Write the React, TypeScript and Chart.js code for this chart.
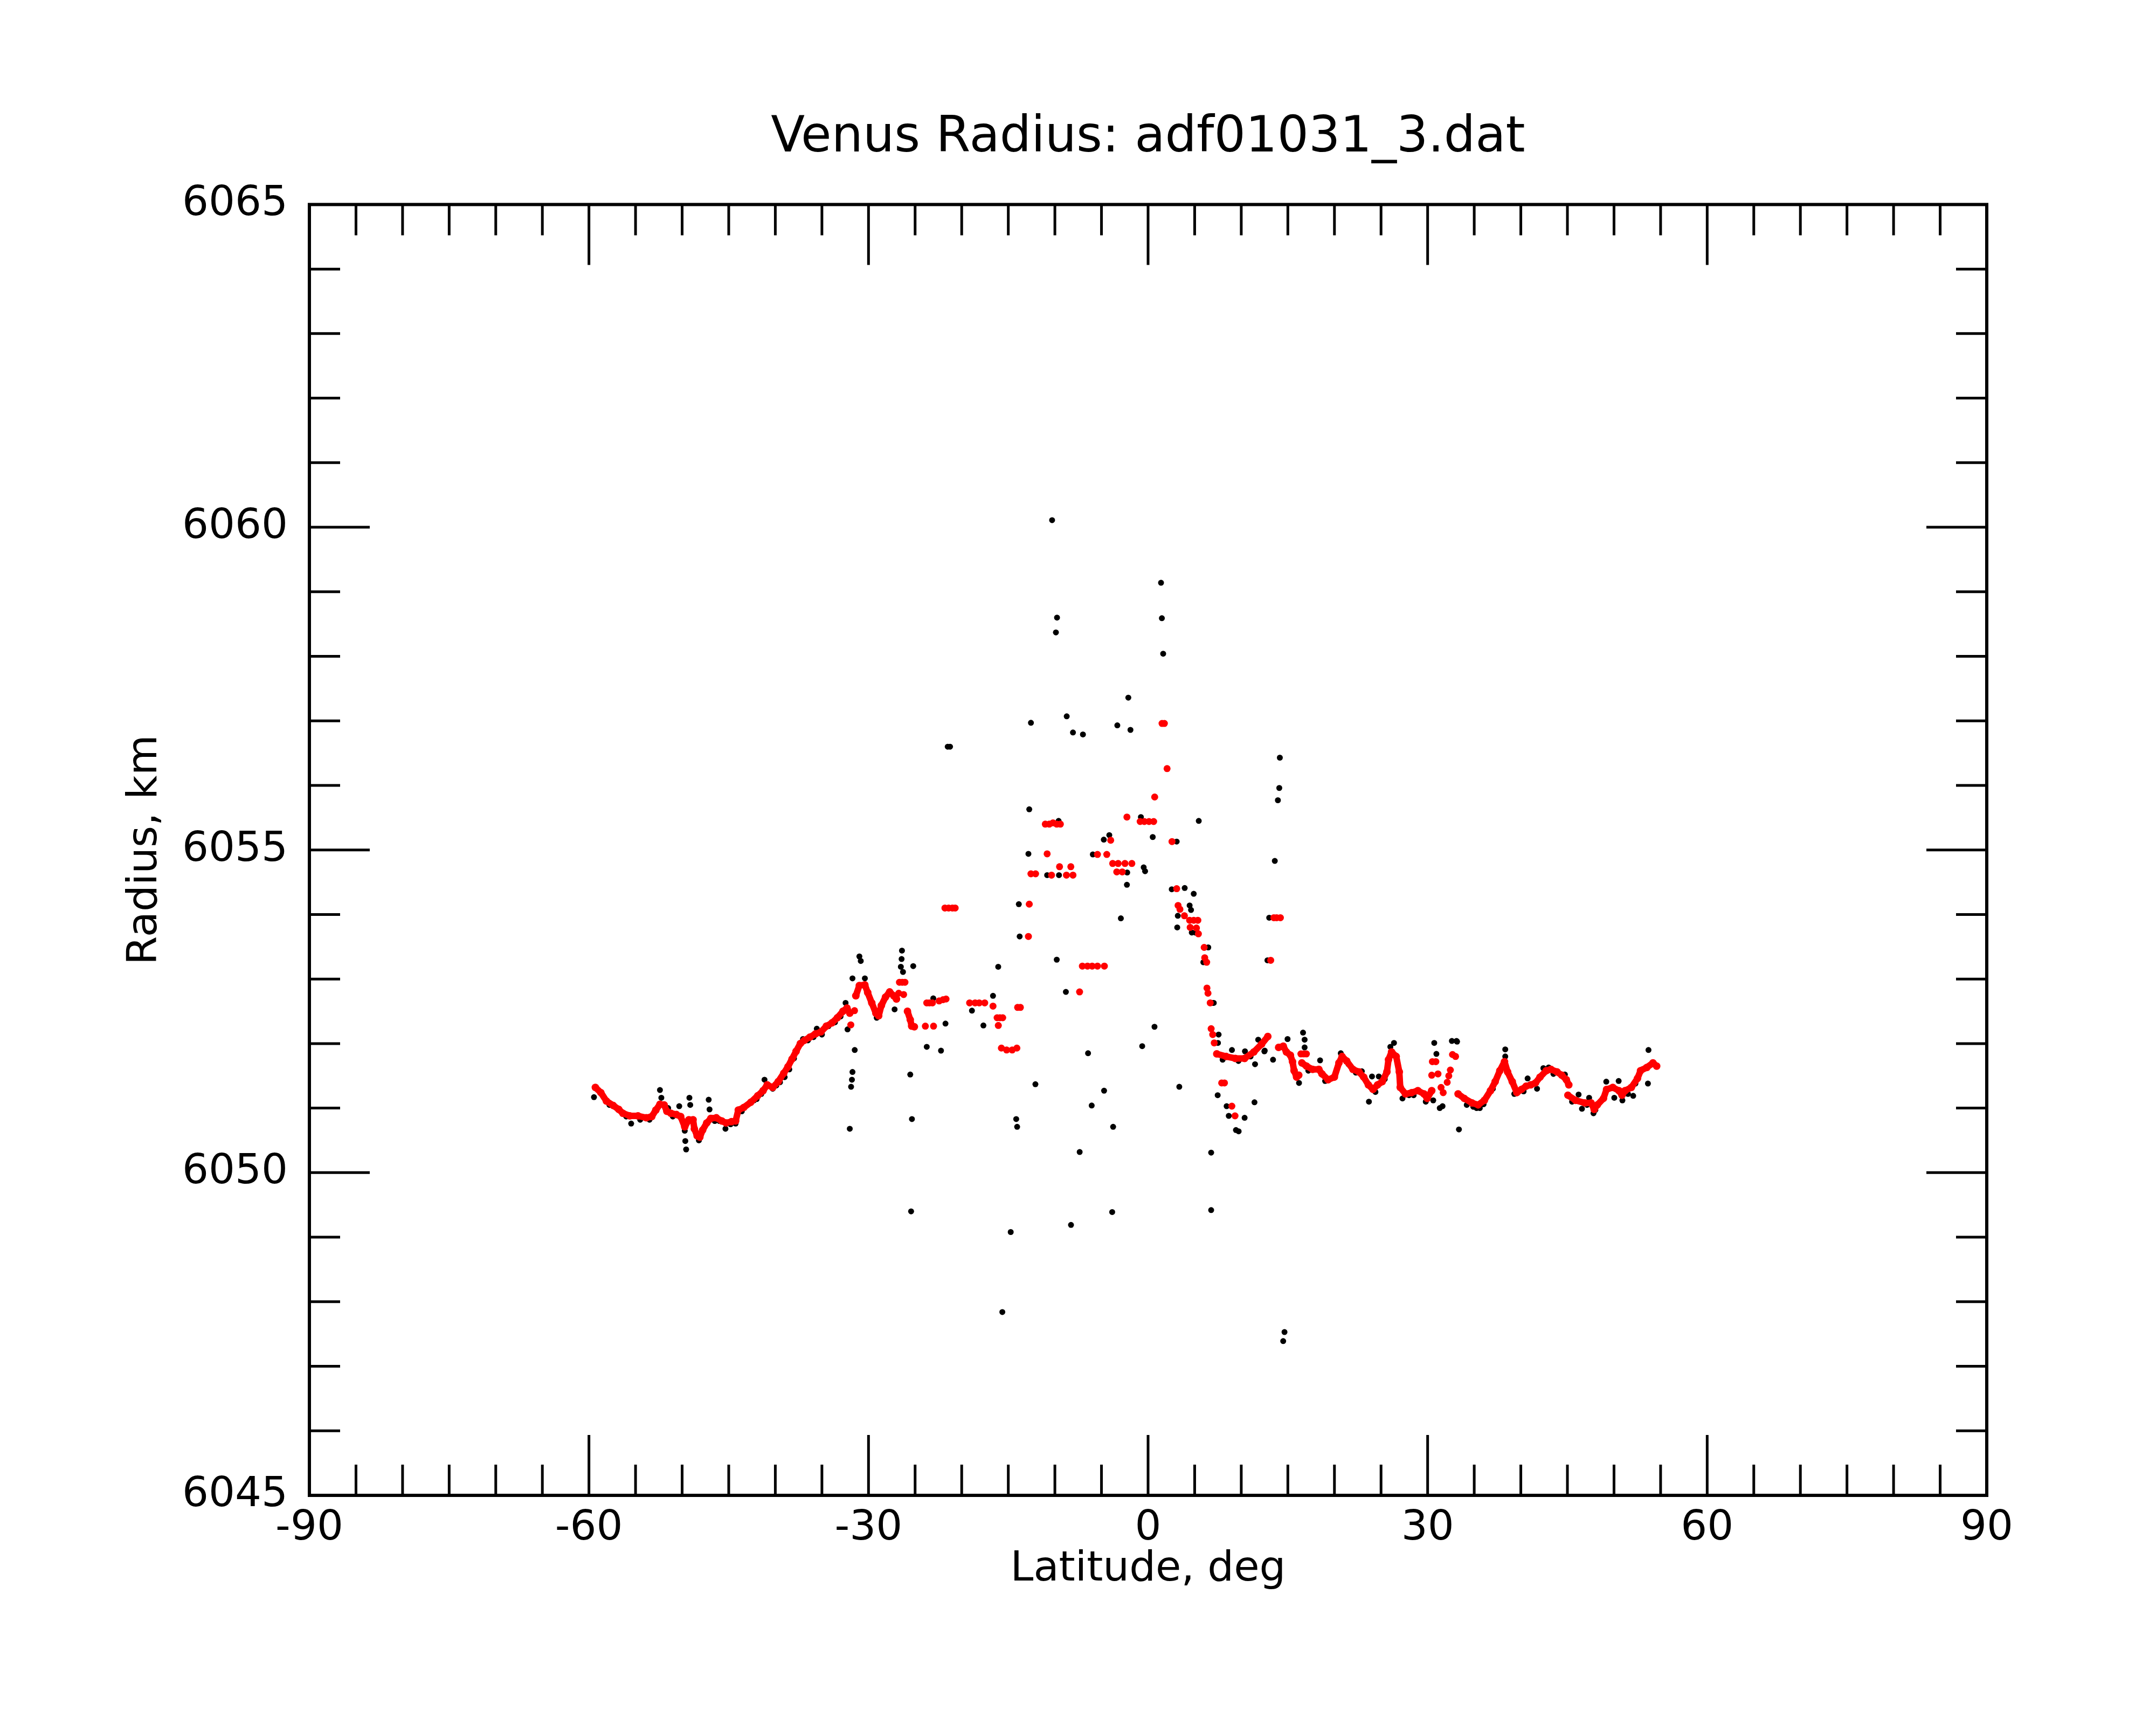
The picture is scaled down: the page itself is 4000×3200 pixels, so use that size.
import React, { useEffect, useRef } from "react";
import { Chart, registerables } from "chart.js";

Chart.register(...registerables);

const TITLE = "Venus Radius: adf01031_3.dat";
const X_TITLE = "Latitude, deg";
const Y_TITLE = "Radius, km";
const FONT = "DejaVu Sans";

const X_MIN = -90;
const X_MAX = 90;
const X_MAJOR = 30;
const X_MINOR = 5;
const Y_MIN = 6045;
const Y_MAX = 6065;
const Y_MAJOR = 5;
const Y_MINOR = 1;

// red (smoothed) continuous runs: [latitude, radius]
const redSouth: [number, number][] = [
  [-59.31, 6051.32], [-58.72, 6051.24], [-58.13, 6051.11], [-57.39, 6051.04], [-56.8, 6050.98],
  [-56.36, 6050.92], [-55.62, 6050.88], [-54.74, 6050.88], [-53.85, 6050.85], [-53.26, 6050.87],
  [-52.82, 6050.97], [-52.38, 6051.06], [-51.93, 6051.05], [-51.64, 6050.95], [-51.2, 6050.92],
  [-50.61, 6050.9], [-50.16, 6050.87], [-49.72, 6050.71], [-49.28, 6050.82], [-48.83, 6050.82],
  [-48.69, 6050.68], [-48.39, 6050.57], [-48.1, 6050.55], [-47.8, 6050.66], [-47.36, 6050.77],
  [-46.92, 6050.84], [-46.33, 6050.85], [-45.74, 6050.8], [-45.29, 6050.77], [-44.7, 6050.79],
  [-44.26, 6050.8], [-43.97, 6050.97], [-43.38, 6051.01], [-42.64, 6051.09], [-41.9, 6051.19],
  [-41.31, 6051.27], [-40.87, 6051.36], [-40.28, 6051.32], [-39.69, 6051.41], [-39.1, 6051.54],
  [-38.65, 6051.64], [-38.21, 6051.76], [-37.77, 6051.88], [-37.32, 6052.0], [-36.88, 6052.05],
  [-36.29, 6052.1], [-35.7, 6052.15], [-35.11, 6052.18], [-34.52, 6052.27], [-33.93, 6052.32],
  [-33.34, 6052.4], [-32.75, 6052.5], [-32.31, 6052.55], [-32.01, 6052.47],
];
const redWiggle: [number, number][] = [
  [-31.36, 6052.74], [-30.98, 6052.9], [-30.39, 6052.91], [-30.09, 6052.79], [-29.65, 6052.63],
  [-29.21, 6052.47], [-28.91, 6052.43], [-28.62, 6052.59], [-28.18, 6052.72], [-27.73, 6052.8],
  [-27.29, 6052.74], [-27.0, 6052.69],
];
const redSouthEnd: [number, number][] = [
  [-25.82, 6052.5], [-25.52, 6052.37], [-25.37, 6052.27], [-25.08, 6052.26],
];
const redNorthA: [number, number][] = [
  [7.37, 6051.84], [8.37, 6051.8], [9.36, 6051.77], [10.36, 6051.77], [11.35, 6051.87],
  [12.18, 6051.99], [12.85, 6052.11],
];
const redNorthB: [number, number][] = [
  [14.01, 6051.94], [14.51, 6051.96], [14.84, 6051.87], [15.27, 6051.82], [15.5, 6051.72],
  [15.67, 6051.58], [15.94, 6051.48], [16.17, 6051.51],
];
const redNorthC: [number, number][] = [
  [16.5, 6051.7], [17.0, 6051.65], [17.66, 6051.6], [18.33, 6051.6], [18.66, 6051.53],
  [19.32, 6051.44], [19.99, 6051.48], [20.48, 6051.7], [20.82, 6051.8], [21.31, 6051.73],
  [21.98, 6051.6], [22.64, 6051.56], [23.14, 6051.48], [23.64, 6051.36], [24.14, 6051.29],
  [24.63, 6051.36], [25.13, 6051.41], [25.63, 6051.56], [25.8, 6051.75], [26.13, 6051.87],
  [26.63, 6051.8], [26.96, 6051.56], [27.06, 6051.32], [27.62, 6051.22], [28.29, 6051.24],
  [28.95, 6051.27], [29.61, 6051.22], [29.95, 6051.15], [30.44, 6051.27],
];
const redNorthD: [number, number][] = [
  [33.27, 6051.22], [33.93, 6051.15], [34.76, 6051.08], [35.42, 6051.05], [36.09, 6051.12],
  [36.75, 6051.27], [37.25, 6051.41], [37.75, 6051.58], [38.25, 6051.72], [38.58, 6051.56],
  [39.08, 6051.41], [39.57, 6051.24], [40.07, 6051.29], [40.57, 6051.34], [41.07, 6051.36],
  [41.57, 6051.39], [42.06, 6051.48], [42.73, 6051.58], [43.23, 6051.6], [43.89, 6051.56],
  [44.39, 6051.51], [44.89, 6051.44], [45.15, 6051.36],
];
const redNorthE: [number, number][] = [
  [45.05, 6051.2], [45.88, 6051.12], [46.88, 6051.08], [47.54, 6051.08], [47.87, 6050.98],
  [48.21, 6051.05], [48.87, 6051.15], [49.2, 6051.29], [49.87, 6051.32], [50.53, 6051.27],
  [50.86, 6051.2], [51.19, 6051.27], [51.86, 6051.32], [52.52, 6051.46], [52.85, 6051.58],
  [53.52, 6051.63], [54.18, 6051.7], [54.58, 6051.65],
];

// red isolated points
const redScatter: [number, number][] = [
  [-31.9, 6052.29], [-31.5, 6052.51], [-26.68, 6052.95], [-26.38, 6052.95], [-26.09, 6052.95],
  [-26.76, 6052.78], [-26.23, 6052.76], [-23.9, 6052.27], [-23.02, 6052.27], [-23.75, 6052.63],
  [-23.46, 6052.63], [-23.14, 6052.63], [-22.42, 6052.66], [-22.0, 6052.68], [-21.68, 6052.69],
  [-21.8, 6054.1], [-21.4, 6054.1], [-21.0, 6054.1], [-20.7, 6054.1], [-19.15, 6052.63],
  [-18.56, 6052.63], [-18.12, 6052.63], [-17.53, 6052.63], [-16.64, 6052.58], [-16.2, 6052.4],
  [-15.9, 6052.4], [-15.6, 6052.4], [-16.07, 6052.28], [-15.74, 6051.93], [-15.18, 6051.9],
  [-14.58, 6051.9], [-14.08, 6051.93], [-14.0, 6052.56], [-13.7, 6052.56], [-12.84, 6053.66],
  [-12.75, 6054.16], [-12.57, 6054.63], [-12.07, 6054.63], [-10.83, 6054.94], [-10.36, 6054.61],
  [-8.76, 6054.61], [-8.06, 6054.61], [-9.5, 6054.74], [-8.29, 6054.74], [-11.03, 6055.4],
  [-10.6, 6055.4], [-10.2, 6055.42], [-9.8, 6055.4], [-9.41, 6055.4], [-7.35, 6052.8],
  [-7.05, 6053.2], [-6.5, 6053.2], [-6.0, 6053.2], [-5.43, 6053.2], [-4.69, 6053.2],
  [-5.43, 6054.93], [-4.43, 6054.93], [-4.01, 6055.15], [-3.8, 6054.79], [-3.21, 6054.79],
  [-2.48, 6054.79], [-1.74, 6054.79], [-3.36, 6054.66], [-2.77, 6054.66], [-2.27, 6055.51],
  [-0.85, 6055.44], [-0.4, 6055.44], [0.1, 6055.44], [0.6, 6055.44], [0.71, 6055.82],
  [1.5, 6056.96], [1.75, 6056.96], [2.04, 6056.26], [2.57, 6055.13], [3.07, 6054.4],
  [3.22, 6054.14], [3.42, 6054.08], [3.9, 6053.98], [4.46, 6053.91], [4.9, 6053.91],
  [5.34, 6053.91], [4.52, 6053.8], [5.19, 6053.79], [5.4, 6053.7], [6.02, 6053.49],
  [6.08, 6053.33], [6.29, 6053.26], [6.32, 6052.86], [6.43, 6052.78], [6.67, 6052.63],
  [6.77, 6052.23], [6.94, 6052.14], [7.1, 6052.01], [7.9, 6051.39], [8.2, 6051.39],
  [8.99, 6051.03], [9.33, 6050.88], [13.16, 6053.29], [13.5, 6053.95], [13.8, 6053.95],
  [14.2, 6053.95], [16.4, 6051.84], [16.7, 6051.84], [16.99, 6051.84], [30.51, 6051.72],
  [30.88, 6051.72], [30.44, 6051.51], [31.11, 6051.53], [31.44, 6051.32], [31.67, 6051.24],
  [32.1, 6051.4], [32.27, 6051.5], [32.44, 6051.59], [32.67, 6051.83], [33.0, 6051.8],
];

// black (raw) points
const blackPoints: [number, number][] = [
  [-59.46, 6051.17], [-59.0, 6051.28], [-57.8, 6051.05], [-57.0, 6051.0], [-56.0, 6050.87],
  [-55.47, 6050.76], [-54.5, 6050.82], [-53.5, 6050.82], [-52.38, 6051.28], [-52.23, 6051.16],
  [-51.5, 6051.0], [-51.0, 6050.87], [-50.31, 6051.03], [-49.72, 6050.65], [-49.66, 6050.49],
  [-49.57, 6050.36], [-49.22, 6051.16], [-49.13, 6051.05], [-48.2, 6050.5], [-47.15, 6051.13],
  [-47.06, 6050.98], [-46.5, 6050.8], [-46.0, 6050.8], [-45.35, 6050.68], [-44.8, 6050.75],
  [-44.26, 6050.76], [-43.6, 6050.95], [-42.3, 6051.12], [-42.0, 6051.14], [-41.5, 6051.22],
  [-41.16, 6051.44], [-40.28, 6051.3], [-39.9, 6051.35], [-39.5, 6051.4], [-39.0, 6051.48],
  [-38.5, 6051.6], [-38.0, 6051.77], [-37.03, 6052.07], [-36.5, 6052.05], [-35.9, 6052.1],
  [-35.55, 6052.23], [-35.0, 6052.14], [-34.3, 6052.27], [-33.6, 6052.33], [-33.0, 6052.42],
  [-32.46, 6052.63], [-32.25, 6052.22], [-31.72, 6053.01], [-30.98, 6053.35], [-30.83, 6053.28],
  [-30.39, 6053.01], [-31.48, 6051.9], [-31.72, 6051.56], [-31.78, 6051.44], [-31.87, 6051.33],
  [-32.01, 6050.68], [-29.12, 6052.4], [-27.2, 6052.53], [-26.41, 6053.44], [-26.45, 6053.31],
  [-26.53, 6053.19], [-26.3, 6053.11], [-25.2, 6053.2], [-25.52, 6051.52], [-25.34, 6050.83],
  [-25.43, 6049.4], [-23.75, 6051.95], [-22.22, 6051.89], [-21.74, 6052.31], [-23.05, 6052.7],
  [-21.5, 6056.6], [-21.25, 6056.6], [-18.9, 6052.51], [-17.67, 6052.28], [-16.64, 6052.74],
  [-16.08, 6053.19], [-15.64, 6047.84], [-14.74, 6049.08], [-14.15, 6050.83], [-14.05, 6050.71],
  [-13.87, 6054.16], [-13.78, 6053.66], [-12.84, 6054.94], [-12.75, 6055.63], [-12.57, 6056.97],
  [-12.09, 6051.37], [-10.83, 6054.61], [-10.3, 6060.11], [-9.89, 6058.37], [-9.77, 6058.6],
  [-9.8, 6053.3], [-9.56, 6054.61], [-9.6, 6055.45], [-8.82, 6052.8], [-8.73, 6057.07],
  [-8.27, 6049.19], [-8.06, 6056.82], [-7.34, 6050.32], [-6.99, 6056.79], [-6.44, 6051.85],
  [-6.05, 6051.04], [-5.93, 6054.93], [-5.43, 6053.2], [-4.75, 6055.16], [-4.16, 6055.23],
  [-4.72, 6051.27], [-3.85, 6049.39], [-3.75, 6050.71], [-3.3, 6056.93], [-2.92, 6053.94],
  [-2.24, 6054.65], [-2.27, 6054.46], [-2.12, 6057.36], [-1.89, 6056.86], [-0.77, 6055.51],
  [-0.63, 6051.96], [-0.47, 6054.73], [-0.32, 6054.67], [0.5, 6055.2], [0.69, 6052.26],
  [1.39, 6059.14], [1.48, 6058.59], [1.62, 6058.04], [2.54, 6054.39], [3.07, 6055.13],
  [3.13, 6053.8], [3.19, 6053.98], [3.35, 6051.33], [3.93, 6054.41], [4.46, 6054.14],
  [4.61, 6054.07], [4.69, 6053.72], [4.9, 6054.32], [5.05, 6053.72], [5.44, 6055.45],
  [5.93, 6053.26], [6.46, 6053.49], [6.77, 6050.31], [6.77, 6049.42], [6.97, 6052.63],
  [7.05, 6052.63], [7.5, 6052.01], [7.57, 6052.14], [7.47, 6051.2], [8.0, 6051.75],
  [8.43, 6051.03], [8.66, 6050.88], [9.43, 6050.66], [9.72, 6050.64], [9.0, 6051.9],
  [9.7, 6051.73], [10.36, 6050.85], [10.4, 6051.88], [11.0, 6051.8], [11.42, 6051.09],
  [11.48, 6051.68], [11.82, 6052.06], [12.48, 6051.88], [12.52, 6051.89], [12.81, 6053.29],
  [13.0, 6053.95], [13.41, 6051.75], [13.6, 6054.83], [13.93, 6055.77], [14.08, 6055.96],
  [14.14, 6056.43], [14.5, 6047.39], [14.64, 6047.53], [14.97, 6052.07], [16.63, 6052.17],
  [16.8, 6052.06], [16.8, 6051.94], [16.2, 6051.39], [17.2, 6051.58], [18.46, 6051.74],
  [19.0, 6051.42], [20.68, 6051.85], [21.5, 6051.68], [22.3, 6051.55], [22.94, 6051.57],
  [23.7, 6051.1], [24.03, 6051.49], [24.4, 6051.25], [24.76, 6051.49], [25.4, 6051.45],
  [26.0, 6051.95], [26.39, 6052.01], [27.3, 6051.15], [28.0, 6051.2], [28.5, 6051.2],
  [29.8, 6051.1], [30.71, 6052.01], [30.94, 6051.84], [30.6, 6051.12], [31.3, 6051.0],
  [31.6, 6051.03], [32.6, 6052.04], [33.1, 6052.04], [33.16, 6052.03], [33.36, 6050.67],
  [34.2, 6051.05], [34.9, 6051.02], [35.26, 6051.0], [35.6, 6051.0], [36.0, 6051.06],
  [37.0, 6051.3], [38.33, 6051.91], [38.33, 6051.8], [39.3, 6051.22], [40.3, 6051.26],
  [40.73, 6051.46], [41.74, 6051.3], [42.42, 6051.62], [42.99, 6051.63], [43.5, 6051.53],
  [44.73, 6051.52], [45.5, 6051.1], [46.2, 6051.21], [46.56, 6050.99], [47.1, 6051.05],
  [47.33, 6051.16], [47.8, 6050.92], [48.0, 6050.97], [49.17, 6051.41], [50.03, 6051.16],
  [50.5, 6051.42], [50.9, 6051.12], [51.5, 6051.22], [52.06, 6051.19], [52.3, 6051.38],
  [53.02, 6051.6], [53.64, 6051.38], [53.7, 6051.9],
];

const redRuns = [redSouth, redWiggle, redSouthEnd, redNorthA, redNorthB, redNorthC, redNorthD, redNorthE];

const toXY = (pts: [number, number][]) => pts.map(([x, y]) => ({ x, y }));

const frameAndTicks = {
  id: "frameAndTicks",
  afterDraw(chart: any) {
    const { ctx, chartArea: a, scales } = chart;
    const xs = scales.x;
    const ys = scales.y;
    ctx.save();
    ctx.strokeStyle = "#000";
    ctx.lineCap = "butt";
    ctx.lineWidth = 5;
    ctx.beginPath();
    for (let v = X_MIN + X_MINOR; v < X_MAX; v += X_MINOR) {
      const px = xs.getPixelForValue(v);
      const len = v % X_MAJOR === 0 ? 112 : 57;
      ctx.moveTo(px, a.bottom);
      ctx.lineTo(px, a.bottom - len);
      ctx.moveTo(px, a.top);
      ctx.lineTo(px, a.top + len);
    }
    for (let v = Y_MIN + Y_MINOR; v < Y_MAX; v += Y_MINOR) {
      const py = ys.getPixelForValue(v);
      const len = (v - Y_MIN) % Y_MAJOR === 0 ? 112 : 57;
      ctx.moveTo(a.left, py);
      ctx.lineTo(a.left + len, py);
      ctx.moveTo(a.right, py);
      ctx.lineTo(a.right - len, py);
    }
    ctx.stroke();
    ctx.lineWidth = 6;
    ctx.strokeRect(a.left, a.top, a.right - a.left, a.bottom - a.top);
    ctx.restore();
  },
};

export default function App() {
  const canvasRef = useRef<HTMLCanvasElement | null>(null);

  useEffect(() => {
    const canvas = canvasRef.current;
    if (!canvas) return;

    const curveData: any[] = [];
    redRuns.forEach((run, i) => {
      curveData.push(...toXY(run));
      if (i < redRuns.length - 1) curveData.push({ x: run[run.length - 1][0], y: null });
    });

    const chart = new Chart(canvas, {
      type: "scatter",
      data: {
        datasets: [
          {
            label: "smoothed",
            data: curveData,
            showLine: true,
            spanGaps: false,
            borderColor: "#ff0000",
            borderWidth: 12,
            borderJoinStyle: "round",
            borderCapStyle: "round",
            backgroundColor: "#ff0000",
            pointBackgroundColor: "#ff0000",
            pointBorderWidth: 0,
            pointRadius: 7,
            tension: 0,
            order: 0,
            yAxisID: "y",
          } as any,
          {
            label: "smoothed points",
            data: toXY(redScatter),
            backgroundColor: "#ff0000",
            pointBackgroundColor: "#ff0000",
            pointBorderWidth: 0,
            pointRadius: 6.5,
            order: 1,
            yAxisID: "y",
          } as any,
          {
            label: "raw",
            data: toXY(blackPoints),
            backgroundColor: "#000000",
            pointBackgroundColor: "#000000",
            pointBorderWidth: 0,
            pointRadius: 5.5,
            order: 2,
            yAxisID: "y",
          } as any,
        ],
      },
      options: {
        animation: false,
        responsive: false,
        devicePixelRatio: 1,
        events: [],
        layout: { padding: { left: 260, right: 0, top: 0, bottom: 0 } },
        plugins: {
          legend: { display: false },
          tooltip: { enabled: false },
          title: {
            display: true,
            text: TITLE,
            color: "#000",
            font: { family: FONT, size: 92, weight: "normal", lineHeight: 1.2 },
            padding: { top: 202, bottom: 67 },
          },
        },
        scales: {
          x: {
            type: "linear",
            min: X_MIN,
            max: X_MAX,
            grid: { display: false },
            border: { display: false },
            ticks: {
              stepSize: X_MAJOR,
              autoSkip: false,
              maxRotation: 0,
              color: "#000",
              padding: 8,
              font: { family: FONT, size: 77, lineHeight: 1.2 },
              callback: (v: any) => String(v),
            },
            title: {
              display: true,
              text: X_TITLE,
              color: "#000",
              font: { family: FONT, size: 77, lineHeight: 1.2 },
              padding: { top: 0, bottom: 242 },
            },
            afterFit: (s: any) => {
              s.height = 426;
            },
          },
          y: {
            type: "linear",
            position: "left",
            min: Y_MIN,
            max: Y_MAX,
            grid: { display: false },
            border: { display: false },
            ticks: {
              stepSize: Y_MAJOR,
              autoSkip: false,
              color: "#000",
              padding: 32,
              font: { family: FONT, size: 77, lineHeight: 1.2 },
              callback: (v: any) => String(v),
            },
            title: {
              display: true,
              text: Y_TITLE,
              color: "#000",
              font: { family: FONT, size: 77, lineHeight: 1.2 },
              padding: { top: -36, bottom: 0 },
            },
            afterFit: (s: any) => {
              s.width = 314;
            },
          },
          yRight: {
            type: "linear",
            position: "right",
            display: true,
            min: 0,
            max: 1,
            grid: { display: false },
            border: { display: false },
            ticks: { display: false },
            afterFit: (s: any) => {
              s.width = 314;
            },
          },
        },
      },
      plugins: [frameAndTicks],
    });

    return () => chart.destroy();
  }, []);

  return (
    <div style={{ position: "absolute", left: 0, top: 0, width: 4000, height: 3200, background: "#fff" }}>
      <canvas ref={canvasRef} width={4000} height={3200} style={{ display: "block", width: 4000, height: 3200 }} />
    </div>
  );
}
